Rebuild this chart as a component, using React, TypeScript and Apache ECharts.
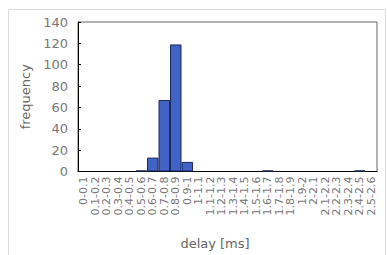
import React, { useEffect, useRef } from "react";
import * as echarts from "echarts";

const categories = [
  "0-0.1", "0.1-0.2", "0.2-0.3", "0.3-0.4", "0.4-0.5", "0.5-0.6", "0.6-0.7",
  "0.7-0.8", "0.8-0.9", "0.9-1", "1-1.1", "1.1-1.2", "1.2-1.3", "1.3-1.4",
  "1.4-1.5", "1.5-1.6", "1.6-1.7", "1.7-1.8", "1.8-1.9", "1.9-2", "2-2.1",
  "2.1-2.2", "2.2-2.3", "2.3-2.4", "2.4-2.5", "2.5-2.6",
];
const frequency = [0, 0, 0, 0, 0, 1, 13, 67, 119, 9, 0, 0, 0, 0, 0, 0, 1, 0, 0, 0, 0, 0, 0, 0, 1, 0];
const yTicks = { min: 0, max: 140, interval: 20 };

export default function App() {
  const ref = useRef<HTMLDivElement>(null);
  useEffect(() => {
    const chart = echarts.init(ref.current!, null, { renderer: "svg" });
    chart.setOption({
      animation: false,
      backgroundColor: "#fff",
      textStyle: { fontFamily: "DejaVu Sans" },
      graphic: [
        {
          type: "rect",
          shape: { x: 8.5, y: 9.5, width: 377, height: 260 },
          style: { fill: "none", stroke: "#dcdcdc", lineWidth: 1 },
          silent: true,
        },
      ],
      grid: {
        left: 78,
        top: 22,
        width: 299,
        height: 149.5,
        show: true,
        borderColor: "#666",
        borderWidth: 1,
        backgroundColor: "transparent",
        containLabel: false,
        outerBoundsMode: "none",
      },
      xAxis: {
        type: "category",
        data: categories,
        boundaryGap: true,
        name: "delay [ms]",
        nameLocation: "middle",
        nameGap: 65,
        nameTextStyle: { color: "#666", fontSize: 13, padding: [0, 25, 0, 0] },
        axisLine: { lineStyle: { color: "#000", width: 1 } },
        axisTick: { show: false },
        axisLabel: {
          interval: 0,
          rotate: 90,
          color: "#777",
          fontSize: 11,
          margin: 5,
        },
        splitLine: { show: false },
      },
      yAxis: {
        type: "value",
        min: yTicks.min,
        max: yTicks.max,
        interval: yTicks.interval,
        name: "frequency",
        nameLocation: "middle",
        nameGap: 38,
        nameTextStyle: { color: "#666", fontSize: 13 },
        axisLine: { show: true, lineStyle: { color: "#000", width: 1 } },
        axisTick: { show: true, inside: true, length: 3, lineStyle: { color: "#000" } },
        axisLabel: { color: "#777", fontSize: 13, margin: 10 },
        splitLine: { show: false },
      },
      series: [
        {
          type: "bar",
          data: frequency.map((v) => (v === 0 ? null : v)),
          barCategoryGap: "0%",
          itemStyle: { color: "#4163c6", borderColor: "#1c2a5c", borderWidth: 1 },
        },
      ],
    });
    return () => chart.dispose();
  }, []);
  return (
    <div
      ref={ref}
      style={{ position: "fixed", left: 0, top: 0, width: 387, height: 255 }}
    />
  );
}
